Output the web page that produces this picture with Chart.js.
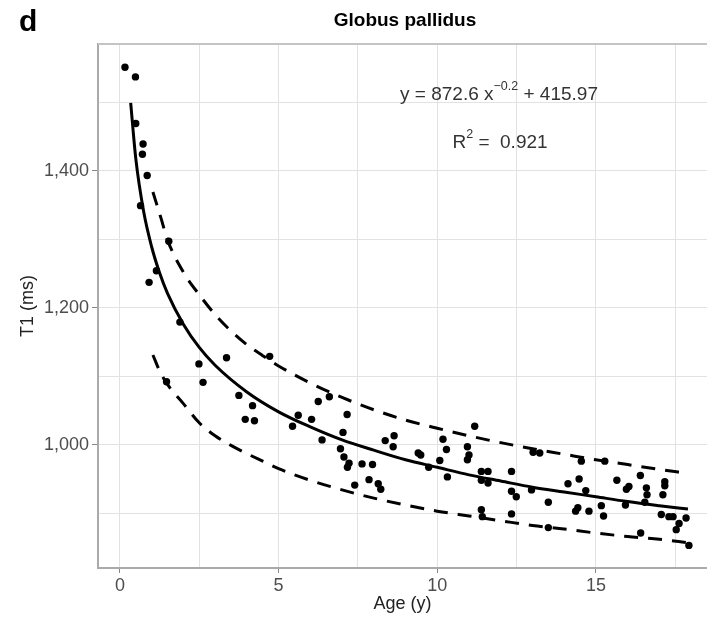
<!DOCTYPE html>
<html>
<head>
<meta charset="utf-8">
<script src="https://cdn.jsdelivr.net/npm/chart.js@4.4.1/dist/chart.umd.min.js"></script>
<style>
  html, body { margin: 0; padding: 0; background: #fff; }
  #wrap { position: relative; width: 707px; height: 623px; font-family: "Liberation Sans", Arial, sans-serif; }
  #panel { position: absolute; left: 19px; top: 6px; font-size: 30px; line-height: 30px; font-weight: bold; color: #000; }
  #title { position: absolute; left: 405px; top: 9px; transform: translateX(-50%); font-size: 19px; line-height: 22px; font-weight: bold; color: #000; white-space: nowrap; }
  .note { position: absolute; font-size: 19px; line-height: 20px; color: #333; white-space: nowrap; transform: translateX(-50%); }
  .note sup { font-size: 12.5px; position: relative; top: -3px; }
  #eq { left: 499px; top: 79px; }
  #r2 { left: 500px; top: 127px; }
</style>
</head>
<body>
<div id="wrap">
  <canvas id="chart" width="707" height="623"></canvas>
  <div id="panel">d</div>
  <div id="title">Globus pallidus</div>
  <div class="note" id="eq">y = 872.6 x<sup>−0.2</sup> + 415.97</div>
  <div class="note" id="r2">R<sup>2</sup> =&nbsp; 0.921</div>
</div>
<script>
// measured points (age in years, T1 in ms)
const ageYears = [0.16, 0.49, 0.50, 0.73, 0.71, 0.86, 0.65, 1.54, 1.15, 0.92, 1.89, 3.36, 4.72, 2.49, 2.62, 1.47,
  3.75, 4.18, 3.95, 4.24, 5.62, 5.44, 6.04, 6.25, 6.6, 6.37, 7.16, 7.03, 6.95, 7.06, 7.22, 7.17, 7.63, 7.96,
  7.4, 7.85, 8.14, 8.22, 8.36, 8.64, 8.61, 9.4, 9.48, 9.73, 10.18, 10.29, 10.08, 10.32, 11.18, 10.95, 11.0,
  10.95, 11.39, 11.6, 11.39, 11.6, 11.39, 11.42, 12.34, 12.34, 12.49, 12.97, 12.34, 13.02, 13.23, 13.5, 13.5,
  14.12, 14.47, 14.68, 14.54, 14.43, 14.36, 14.78, 15.17, 15.24, 15.28, 15.66, 15.96, 16.04, 15.93, 16.4,
  16.59, 16.61, 16.54, 16.41, 17.17, 17.17, 17.11, 17.06, 17.3, 17.43, 17.62, 17.53, 17.84, 17.93];
const t1Ms = [1551, 1537, 1469, 1439, 1424, 1393, 1349, 1297, 1254, 1237, 1179, 1127, 1129, 1118, 1091, 1092,
  1072, 1057, 1037, 1035, 1043, 1027, 1037, 1063, 1070, 1007, 1044, 1018, 994, 982, 973, 967, 972, 971,
  941, 949, 943, 935, 1006, 1013, 997, 988, 985, 967, 1008, 993, 977, 953, 1027, 997, 985,
  978, 961, 961, 948, 944, 905, 895, 961, 932, 924, 934, 899, 989, 988, 916, 879,
  943, 950, 933, 976, 908, 903, 903, 911, 896, 976, 948, 935, 939, 912, 955,
  937, 927, 916, 871, 946, 940, 927, 898, 895, 895, 885, 876, 893, 853];

// fitted curve
const fitAge = [0.34, 0.5, 0.75, 1, 1.25, 1.5, 2, 2.5, 3, 4, 5, 6, 7, 8, 9, 10, 11, 12, 13, 14, 15, 16, 17, 17.9];
const fitT1 = [1499, 1418, 1340, 1289, 1251, 1221, 1176, 1142, 1116, 1077, 1048, 1026, 1007, 992, 978, 967, 956, 947, 938, 931, 924, 917, 911, 906];

// upper and lower dashed bands
const upperAge = [1.04, 1.3, 1.5, 2, 2.5, 3, 3.5, 4, 4.5, 5, 6, 7, 8, 9, 10, 11, 12, 13, 14, 15, 16, 17, 17.9];
const upperT1 = [1369, 1330, 1299, 1252, 1219, 1190, 1166, 1146, 1130, 1115, 1090, 1069, 1051, 1036, 1024, 1013, 1003, 994, 986, 978, 971, 964, 958];
const lowerAge = [1.04, 1.25, 1.5, 2, 2.5, 3, 3.5, 4, 4.5, 5, 6, 7, 8, 9, 10, 11, 12, 13, 14, 15, 16, 17, 17.9];
const lowerT1 = [1131, 1108, 1088, 1060, 1032, 1013, 999, 987, 976, 965, 948, 934, 922, 912, 903, 896, 889, 882, 877, 871, 866, 862, 857];

const xTicks = [0, 2.5, 5, 7.5, 10, 12.5, 15, 17.5];
const xTickLabels = ['0', '', '5', '', '10', '', '15', ''];
const yTicks = [900, 1000, 1100, 1200, 1300, 1400, 1500];
const yTickLabels = ['', '1,000', '', '1,200', '', '1,400', ''];

const toXY = (xs, ys) => xs.map((x, i) => ({ x: x, y: ys[i] }));

// top panel border
const topBorder = {
  id: 'topBorder',
  afterDraw(chart) {
    const { ctx, chartArea } = chart;
    ctx.save();
    ctx.strokeStyle = '#c4c4c4';
    ctx.lineWidth = 2;
    ctx.beginPath();
    ctx.moveTo(chartArea.left, chartArea.top);
    ctx.lineTo(chartArea.right, chartArea.top);
    ctx.stroke();
    ctx.restore();
  }
};

const lineStyle = {
  type: 'line',
  showLine: true,
  pointRadius: 0,
  borderColor: '#000',
  borderWidth: 3,
  fill: false,
  cubicInterpolationMode: 'monotone'
};

new Chart(document.getElementById('chart').getContext('2d'), {
  type: 'scatter',
  data: {
    datasets: [
      { label: 'T1', data: toXY(ageYears, t1Ms), pointRadius: 3.7, pointBackgroundColor: '#000', pointBorderWidth: 0 },
      Object.assign({ label: 'fit', data: toXY(fitAge, fitT1) }, lineStyle),
      Object.assign({ label: 'upper', data: toXY(upperAge, upperT1), borderDash: [14, 10] }, lineStyle),
      Object.assign({ label: 'lower', data: toXY(lowerAge, lowerT1), borderDash: [14, 10] }, lineStyle)
    ]
  },
  options: {
    responsive: false,
    animation: false,
    layout: { padding: { top: 44, left: 0, right: 0, bottom: 0 }, autoPadding: false },
    plugins: {
      legend: { display: false },
      tooltip: { enabled: false },
      title: { display: false }
    },
    scales: {
      x: {
        type: 'linear',
        min: -0.69,
        max: 18.5,
        afterBuildTicks: s => { s.ticks = xTicks.map(v => ({ value: v })); },
        afterFit: s => { s.height = 55; },
        ticks: {
          autoSkip: false,
          maxRotation: 0,
          padding: 2,
          color: '#4d4d4d',
          font: { family: 'Liberation Sans', size: 18 },
          callback: (v, i) => xTickLabels[i]
        },
        grid: {
          color: '#e2e2e2',
          lineWidth: 1,
          tickLength: 5,
          tickColor: c => (c.tick && xTickLabels[xTicks.indexOf(c.tick.value)] !== '') ? '#888' : 'rgba(0,0,0,0)'
        },
        border: { color: '#aaa', width: 2 },
        title: {
          display: true,
          text: 'Age (y)',
          color: '#222',
          font: { family: 'Liberation Sans', size: 18 },
          padding: { top: 0, bottom: 8 }
        }
      },
      y: {
        type: 'linear',
        min: 820,
        max: 1585,
        afterBuildTicks: s => { s.ticks = yTicks.map(v => ({ value: v })); },
        afterFit: s => { s.width = 98; },
        ticks: {
          autoSkip: false,
          padding: 3,
          color: '#4d4d4d',
          font: { family: 'Liberation Sans', size: 18 },
          callback: (v, i) => yTickLabels[i]
        },
        grid: {
          color: '#e2e2e2',
          lineWidth: 1,
          tickLength: 6,
          tickColor: c => (c.tick && yTickLabels[yTicks.indexOf(c.tick.value)] !== '') ? '#888' : 'rgba(0,0,0,0)'
        },
        border: { color: '#aaa', width: 2 },
        title: {
          display: true,
          text: 'T1 (ms)',
          color: '#222',
          font: { family: 'Liberation Sans', size: 18 },
          padding: { top: 17, bottom: 0 }
        }
      }
    }
  },
  plugins: [topBorder]
});
</script>
</body>
</html>
